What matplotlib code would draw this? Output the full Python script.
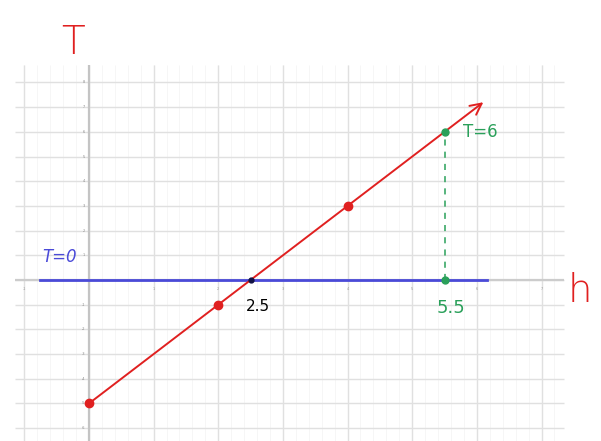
import matplotlib
matplotlib.use('Agg')
import matplotlib.pyplot as plt
import numpy as np

# Line T = 2h - 5 sketched on graph paper
h_points = [0, 2, 4]
T_points = [-5, -1, 3]
h_arrow = [0, 6.1]
T_arrow = [-5, 7.2]

h_root = 2.5
h_mark = 5.5
T_mark = 6

h_zero_line = [-0.75, 6.15]

h_grid = [-1, 0, 1, 2, 3, 4, 5, 6, 7]
T_grid = [-6, -5, -4, -3, -2, -1, 0, 1, 2, 3, 4, 5, 6, 7, 8]

RED = '#e02020'
BLUE = '#4a4ad8'
GREEN = '#2aa05a'
GRID = '#e0e0e0'

fig = plt.figure(figsize=(6.01, 4.41), dpi=100)
ax = fig.add_axes([0, 0, 1, 1])
ax.set_xlim(-1.376, 7.92)
ax.set_ylim(-6.52, 11.34)
ax.axis('off')

# graph paper
h_lo, h_hi = -1.15, 7.35
T_lo, T_hi = -7, 8.7
minor_h = np.arange(-1, 7.35, 0.2)
ax.vlines(minor_h, T_lo, T_hi, color='#f5f5f5', lw=0.6, zorder=0)
ax.vlines(h_grid, T_lo, T_hi, color=GRID, lw=1.0, zorder=1)
ax.hlines(T_grid, h_lo, h_hi, color=GRID, lw=1.0, zorder=1)
ax.vlines(0, T_lo, T_hi, color='#c4c4c4', lw=1.6, zorder=1)
ax.hlines(0, h_lo, h_hi, color='#cccccc', lw=1.6, zorder=1)
for t in T_grid:
    if t != 0:
        ax.text(-0.06, t, str(t), fontsize=2.5, color='#888888',
                ha='right', va='center')
for h in h_grid:
    if h != 0:
        ax.text(h, -0.35, str(h), fontsize=2.5, color='#999999',
                ha='center', va='center')

# T = 0 line
ax.plot(h_zero_line, [0, 0], color=BLUE, lw=2.0, zorder=3)
ax.text(-0.72, 0.55, 'T=0', color=BLUE, fontsize=12, style='italic',
        ha='left', va='bottom')

# red line with arrow
ax.annotate('', xy=(h_arrow[1], T_arrow[1]), xytext=(h_arrow[0], T_arrow[0]),
            arrowprops=dict(arrowstyle='->,head_length=0.8,head_width=0.4',
                            color=RED, lw=1.4, shrinkA=0, shrinkB=0),
            zorder=4)
ax.plot(h_points, T_points, 'o', color=RED, ms=6, zorder=5)

# root
ax.plot([h_root], [0], 'o', color='#111144', ms=3.5, zorder=6)
ax.text(h_root - 0.08, -0.75, '2.5', color='black', fontsize=11,
        ha='left', va='top')

# T = 6 at h = 5.5
ax.plot([h_mark, h_mark], [0, T_mark], color=GREEN, lw=1.1, ls=(0, (4, 4)),
        zorder=3)
ax.plot([h_mark, h_mark], [0, T_mark], 'o', color=GREEN, ms=5, zorder=6)
ax.text(h_mark + 0.28, T_mark, 'T=6', color=GREEN, fontsize=12,
        ha='left', va='center')
ax.text(h_mark - 0.12, -0.75, '5.5', color=GREEN, fontsize=13,
        ha='left', va='top')

# axis names
ax.text(-0.25, 9.6, 'T', color=RED, fontsize=28, fontweight='light',
        ha='center', va='center')
ax.text(7.6, -0.45, 'h', color=RED, fontsize=28, fontweight='light',
        ha='center', va='center')

fig.savefig('out.png', dpi=100, facecolor='white')
